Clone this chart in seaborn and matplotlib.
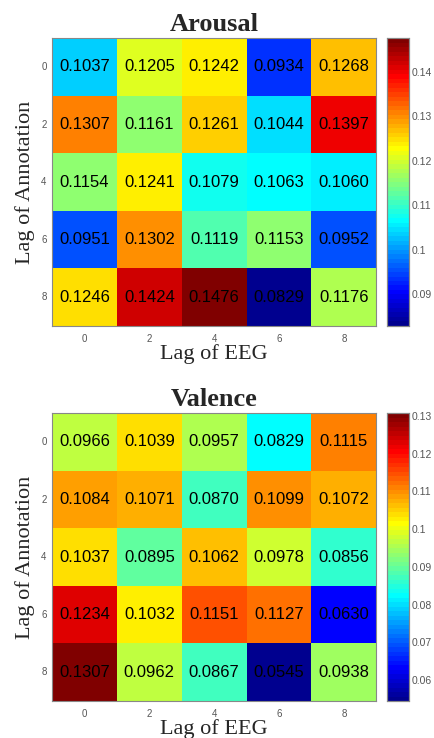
import numpy as np
import matplotlib
matplotlib.use("Agg")
import matplotlib.pyplot as plt
from matplotlib.colors import ListedColormap
import seaborn as sns

# lag labels (rows: annotation lag, cols: EEG lag)
lags = ["0", "2", "4", "6", "8"]

arousal = np.array([
    [0.1037, 0.1205, 0.1242, 0.0934, 0.1268],
    [0.1307, 0.1161, 0.1261, 0.1044, 0.1397],
    [0.1154, 0.1241, 0.1079, 0.1063, 0.1060],
    [0.0951, 0.1302, 0.1119, 0.1153, 0.0952],
    [0.1246, 0.1424, 0.1476, 0.0829, 0.1176],
])

valence = np.array([
    [0.0966, 0.1039, 0.0957, 0.0829, 0.1115],
    [0.1084, 0.1071, 0.0870, 0.1099, 0.1072],
    [0.1037, 0.0895, 0.1062, 0.0978, 0.0856],
    [0.1234, 0.1032, 0.1151, 0.1127, 0.0630],
    [0.1307, 0.0962, 0.0867, 0.0545, 0.0938],
])

arousal_ticks = [0.09, 0.10, 0.11, 0.12, 0.13, 0.14]
valence_ticks = [0.06, 0.07, 0.08, 0.09, 0.10, 0.11, 0.12, 0.13]


def matlab_jet(m=64):
    # same construction as MATLAB's jet(m)
    n = int(np.ceil(m / 4))
    u = np.concatenate([np.arange(1, n + 1) / n, np.ones(n - 1),
                        np.arange(n, 0, -1) / n])
    g = int(np.ceil(n / 2)) - (1 if m % 4 == 1 else 0) + np.arange(1, len(u) + 1)
    r = g + n
    b = g - n
    rgb = np.zeros((m, 3))
    for idx, ch in ((r, 0), (g, 1), (b, 2)):
        ok = (idx >= 1) & (idx <= m)
        rgb[idx[ok] - 1, ch] = u[ok]
    return ListedColormap(rgb)


jet = matlab_jet(64)

sns.set_style("white")

serif = "Liberation Serif"
sans = "Liberation Sans"
tick_col = "#555555"
edge_col = "#888888"

fig = plt.figure(figsize=(4.34, 7.38), dpi=100)


def tick_fmt(v):
    return f"{v:.2f}".rstrip("0")


def draw_panel(data, title, ticks, bottom):
    ax = fig.add_axes([0.120, bottom, 0.747, 0.390])
    cax = fig.add_axes([0.892, bottom, 0.051, 0.390])
    sns.heatmap(data, ax=ax, cbar_ax=cax, cmap=jet,
                annot=True, fmt=".4f",
                annot_kws={"fontsize": 12, "color": "black", "family": sans},
                xticklabels=lags, yticklabels=lags,
                vmin=data.min(), vmax=data.max(),
                cbar_kws={"ticks": ticks})
    ax.set_title(title, fontsize=19, fontweight="bold", family=serif, pad=5)
    ax.set_xlabel("Lag of EEG", fontsize=16, family=serif, labelpad=0)
    ax.set_ylabel("Lag of Annotation", fontsize=16, family=serif, labelpad=4)
    ax.tick_params(axis="both", direction="in", length=3, width=0.6,
                   color=edge_col, labelsize=7, labelcolor=tick_col,
                   top=True, right=True, pad=4)
    ax.tick_params(axis="x", pad=6)
    for lab in ax.get_xticklabels() + ax.get_yticklabels():
        lab.set_family(sans)
    plt.setp(ax.get_yticklabels(), rotation=0)
    for sp in ax.spines.values():
        sp.set_visible(True)
        sp.set_color(edge_col)
        sp.set_linewidth(0.8)

    cax.set_yticks(ticks)
    cax.set_yticklabels([tick_fmt(t) for t in ticks])
    cax.tick_params(axis="y", direction="in", length=3, width=0.6,
                    color=edge_col, labelsize=7.5, labelcolor=tick_col,
                    right=True, left=True, pad=2)
    for lab in cax.get_yticklabels():
        lab.set_family(sans)
    for sp in cax.spines.values():
        sp.set_visible(True)
        sp.set_color(edge_col)
        sp.set_linewidth(0.8)


draw_panel(arousal, "Arousal", arousal_ticks, 0.5583)
draw_panel(valence, "Valence", valence_ticks, 0.0501)

fig.savefig("out.png", dpi=100)
